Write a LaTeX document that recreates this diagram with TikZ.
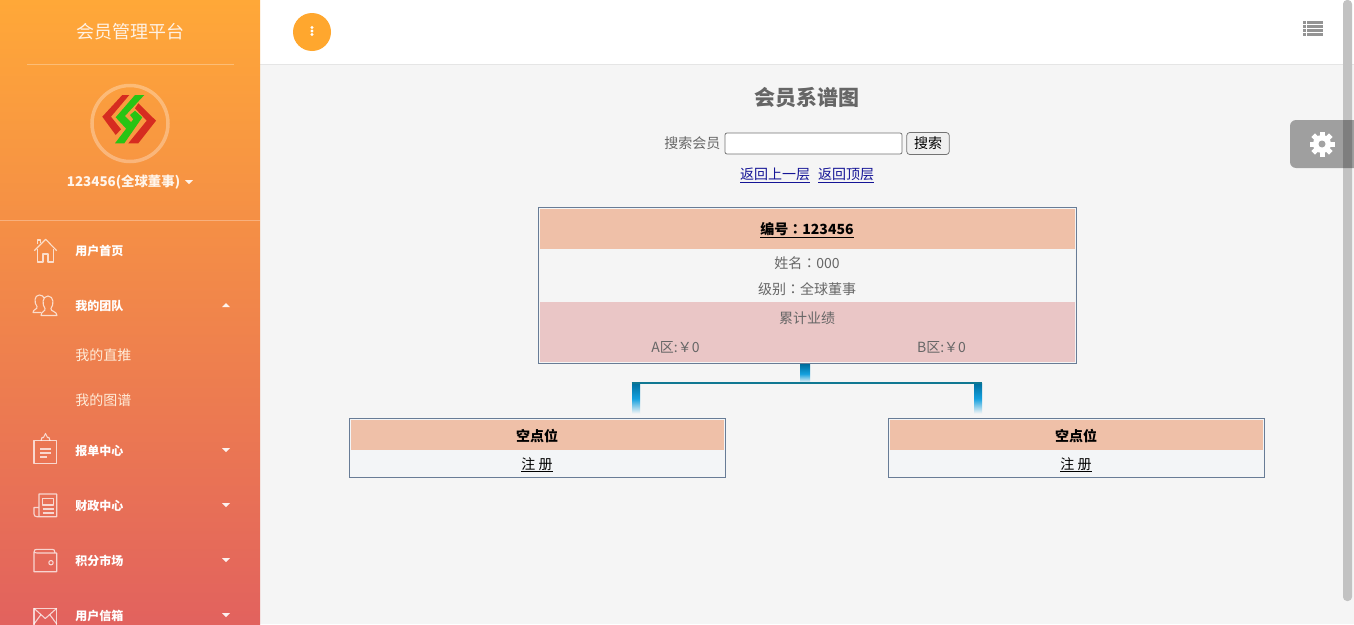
\documentclass[tikz,border=0pt]{standalone}
\usepackage{fontspec}
\setmainfont{Noto Sans CJK SC}
\newfontfamily\tcFont{Noto Sans CJK TC}
\usetikzlibrary{positioning}
\definecolor{pageBg}{RGB}{245,245,245}
\definecolor{emptyBody}{RGB}{243,245,247}
\definecolor{headFill}{RGB}{239,192,168}
\definecolor{sumFill}{RGB}{234,198,198}
\definecolor{boxLine}{RGB}{104,124,150}
\definecolor{greyText}{RGB}{102,102,102}
\definecolor{linkText}{RGB}{20,20,150}
\definecolor{barTeal}{RGB}{16,120,146}
\definecolor{stemTop}{RGB}{0,112,160}
\definecolor{stemMidColor}{RGB}{20,160,222}
\definecolor{accent}{RGB}{255,167,46}
\definecolor{logoRed}{RGB}{214,44,32}
\definecolor{logoGreen}{RGB}{40,196,20}
\tikzset{every picture/.style={line width=0.75pt}}
\tikzset{
  memberBox/.style={draw=boxLine,inner sep=0pt,minimum height=#1},
  headBand/.style={fill=headFill,inner sep=0pt},
  stemNode/.style={inner sep=0pt,minimum width=#1,top color=stemTop,bottom color=pageBg,middle color=stemMidColor},
  treeBar/.style={draw=barTeal,line width=2.5pt},
  menuLabel/.style={anchor=west,inner sep=0pt,text=white,font=\fontsize{12}{14}\selectfont\bfseries},
  subLabel/.style={anchor=west,inner sep=0pt,text=white!85!orange,font=\fontsize{14}{16}\selectfont},
  bodyText/.style={inner sep=0pt,text=greyText,font=\fontsize{14}{16}\selectfont},
  linkLabel/.style={inner sep=0pt,text=linkText,font=\fontsize{14}{16}\selectfont},
  menuIcon/.style={draw=white,draw opacity=0.72,line width=1.1pt,line join=round},
  caretMark/.style={fill=white,fill opacity=0.9},
}
\newcommand{\downCaret}[2]{\fill[caretMark] (#1-4,#2-2) -- (#1+4,#2-2) -- (#1,#2+2) -- cycle;}
\newcommand{\midColon}{{\tcFont ：}}
\begin{document}
\begin{tikzpicture}[x=1pt,y=1pt,yscale=-1]
\useasboundingbox (0,0) rectangle (1354,624);
\clip (0,0) rectangle (1354,624);

%Page and header
\fill[pageBg] (0,0) rectangle (1354,624);
\fill[white] (260,0) rectangle (1354,64.5);
\draw[black!10] (260,64.5) -- (1354,64.5);

%Sidebar
\shade[top color={rgb,255:red,255;green,168;blue,56},bottom color={rgb,255:red,226;green,98;blue,94}] (0,0) rectangle (260,624);
\draw[white,opacity=0.3] (27,64.5) -- (234,64.5);
\draw[white,opacity=0.3] (0,220.5) -- (260,220.5);
\node[inner sep=0pt,text=white!90!orange,font=\fontsize{18}{20}\selectfont] (brandName) at (130,31.7) {会员管理平台};

%Logo
\draw[white,opacity=0.3,line width=3.5pt] (130,123.5) circle (38);
\fill[logoRed] (122.3,95) -- (102.3,116.7) -- (115.7,135) -- (121,129.3) -- (111,116.7) -- (129.3,95) -- cycle;
\fill[logoRed] (138.3,103.3) -- (156,120.7) -- (138.3,143.3) -- (128.3,143.3) -- (146.7,120.7) -- (135,108.3) -- cycle;
\fill[logoGreen] (135,95) -- (115.7,117.3) -- (126.7,129.3) -- (131.7,122.7) -- (125,116) -- (144.3,95) -- cycle;
\fill[logoGreen] (135,110.7) -- (142.3,117.3) -- (124.3,143.3) -- (115,143.3) -- (133.3,119.3) -- (130,115) -- cycle;
\node[inner sep=0pt,text=white!92!orange,font=\fontsize{13.4}{16}\selectfont\bfseries] (userName) at (123.5,181.7) {123456(全球董事)};
\downCaret{189}{182}

%Menu labels
\node[menuLabel] (menuHome) at (75,250.7) {用户首页};
\node[menuLabel] (menuTeam) at (75,305.7) {我的团队};
\node[subLabel] (menuDirect) at (75,355.5) {我的直推};
\node[subLabel] (menuChart) at (75,400.5) {我的图谱};
\node[menuLabel] (menuOrder) at (75,450.7) {报单中心};
\node[menuLabel] (menuFinance) at (75,505.7) {财政中心};
\node[menuLabel] (menuPoints) at (75,560.7) {积分市场};
\node[menuLabel] (menuMail) at (75,615.7) {用户信箱};
\fill[caretMark] (222,307) -- (230,307) -- (226,303) -- cycle;
\foreach \y in {450,505,560,615} {\downCaret{226}{\y}}

%Menu icons
\draw[menuIcon] (34.3,250.7) -- (45.7,239.3) -- (56.7,250.7);
\draw[menuIcon] (37.7,244) -- (37.7,240) -- (40.5,240) -- (40.5,243);
\draw[menuIcon] (37.7,249) -- (37.7,262) -- (43,262) -- (43,254) -- (48,254) -- (48,262) -- (53.3,262) -- (53.3,249);
\draw[menuIcon] (41,312.5) -- (33,312.5) .. controls (33,309) and (38,309.5) .. (37,306.5) .. controls (34,303) and (34,295) .. (39.5,295) .. controls (42,295) and (43.5,296.5) .. (44,298);
\draw[menuIcon] (41,315.5) .. controls (41,311) and (46,311.5) .. (45,308.5) .. controls (42,305) and (42,296) .. (48,296) .. controls (54,296) and (54,305) .. (51,308.5) .. controls (50,311.5) and (57,311) .. (57,315.5) -- cycle;
\draw[menuIcon] (34,440.7) rectangle (56.7,463.3);
\draw[menuIcon] (41,440.7) -- (42,437.5) -- (43.5,437.5) -- (45.5,433.5) -- (47.5,437.5) -- (49,437.5) -- (50,440.7);
\draw[menuIcon] (40,449) -- (51,449) (40,453) -- (51,453) (40,457) -- (47,457);
\draw[menuIcon] (39,516.7) -- (39,494) -- (56.7,494) -- (56.7,516.7) -- (37,516.7) .. controls (35,516.7) and (34,515.5) .. (34,514) -- (34,507.5) -- (39,507.5);
\draw[menuIcon] (42.5,498.5) rectangle (53.5,505);
\draw[menuIcon] (42.5,509) -- (53.5,509) (42.5,513) -- (53.5,513);
\draw[menuIcon] (34,552) .. controls (34,550) and (35,549.3) .. (37,549.3) -- (52,549.3) .. controls (54,549.3) and (55,550) .. (55,553) -- (37,553) .. controls (35,553) and (34,552) .. (34,552) -- (34,571.7) -- (56.7,571.7) -- (56.7,553) -- (55,553);
\draw[menuIcon] (51,562.7) circle (2.2);
\draw[menuIcon] (34,608.3) rectangle (56.7,630);
\draw[menuIcon] (34,608.3) -- (45.3,618.5) -- (56.7,608.3);
\draw[menuIcon] (34,624) -- (41,614.5) (56.7,624) -- (49.7,614.5);

%Header button
\fill[accent] (312,32) circle (19);
\foreach \y in {27.5,31,34.5} {\fill[white] (312,\y) circle (1.6);}

%List icon
\foreach \y in {21,25,29,33} {
  \fill[black!42] (1303,\y) rectangle (1306,\y+3);
  \fill[black!42] (1307,\y) rectangle (1323,\y+3);
}

%Scrollbar and settings tab
\fill[black!24,rounded corners=4pt] (1343,0) rectangle (1352,601);
\fill[black,opacity=0.35,rounded corners=6pt] (1290,120) -- (1360,120) -- (1360,168) -- (1290,168) -- cycle;
\fill[white] (1322,144) circle (9);
\foreach \a in {0,45,...,315} {\fill[white,rotate around={\a:(1322,144)}] (1319.5,131.5) rectangle (1324.5,140);}
\fill[black!36] (1322,144) circle (3.5);

%Title and search
\node[inner sep=0pt,text=greyText,font=\fontsize{21}{24}\selectfont\bfseries] (pageTitle) at (807,97.7) {会员系谱图};
\node[draw=black!55,fill=white,rounded corners=2pt,minimum width=177pt,minimum height=21pt,inner sep=0pt] (searchInput) at (813.5,143.5) {};
\node[bodyText,left=4pt of searchInput] (searchLabel) {搜索会员};
\node[draw=black!55,fill=black!6,rounded corners=3pt,minimum width=42.5pt,minimum height=22pt,inner sep=0pt,right=4pt of searchInput,font=\fontsize{14}{16}\selectfont] (searchButton) {搜索};
\node[linkLabel] (linkUp) at (775,175.2) {\underline{返回上一层}};
\node[linkLabel] (linkRoot) at (846,175.2) {\underline{返回顶层}};

%Top member
\node[memberBox=156pt,minimum width=538pt] (memberTop) at (807.5,285.5) {};
\fill[headFill] (540,209) rectangle (1075,249);
\fill[sumFill] (540,302) rectangle (1075,362);
\node[inner sep=0pt,text=black,font=\fontsize{14}{16}\selectfont\bfseries] (memberCode) at (807,229.7) {\underline{编号\midColon 123456}};
\node[bodyText] (memberName) at (807,263.5) {姓名\midColon 000};
\node[bodyText] (memberLevel) at (807,289.5) {级别\midColon 全球董事};
\node[bodyText] (memberSum) at (807,318.5) {累计业绩};
\node[bodyText] (zoneA) at (675.5,347.3) {A区:￥0};
\node[bodyText] (zoneB) at (941.5,347.3) {B区:￥0};

%Empty members
\node[memberBox=59pt,minimum width=376pt,fill=emptyBody] (memberLeft) at (537.5,448) {};
\fill[headFill] (351,420) rectangle (724,450);
\node[inner sep=0pt,text=black,font=\fontsize{14}{16}\selectfont\bfseries] (leftTitle) at (537,435.7) {空点位};
\node[inner sep=0pt,text=black,font=\fontsize{14}{16}\selectfont] (leftLink) at (537,464.7) {\underline{注 册}};
\node[memberBox=59pt,minimum width=376pt,fill=emptyBody] (memberRight) at (1076.5,448) {};
\fill[headFill] (890,420) rectangle (1263,450);
\node[inner sep=0pt,text=black,font=\fontsize{14}{16}\selectfont\bfseries] (rightTitle) at (1076,435.7) {空点位};
\node[inner sep=0pt,text=black,font=\fontsize{14}{16}\selectfont] (rightLink) at (1076,464.7) {\underline{注 册}};

%Tree connectors
\node[stemNode=10pt,minimum height=18pt,below=0.5pt of memberTop,xshift=-2.5pt] (stemMid) {};
\node[stemNode=8pt,minimum height=30pt] (stemLeft) at (636,398.5) {};
\node[stemNode=8pt,minimum height=30pt] (stemRight) at (978,398.5) {};
\draw[treeBar] (stemLeft.north west) -- (stemRight.north east);

\end{tikzpicture}
\end{document}
